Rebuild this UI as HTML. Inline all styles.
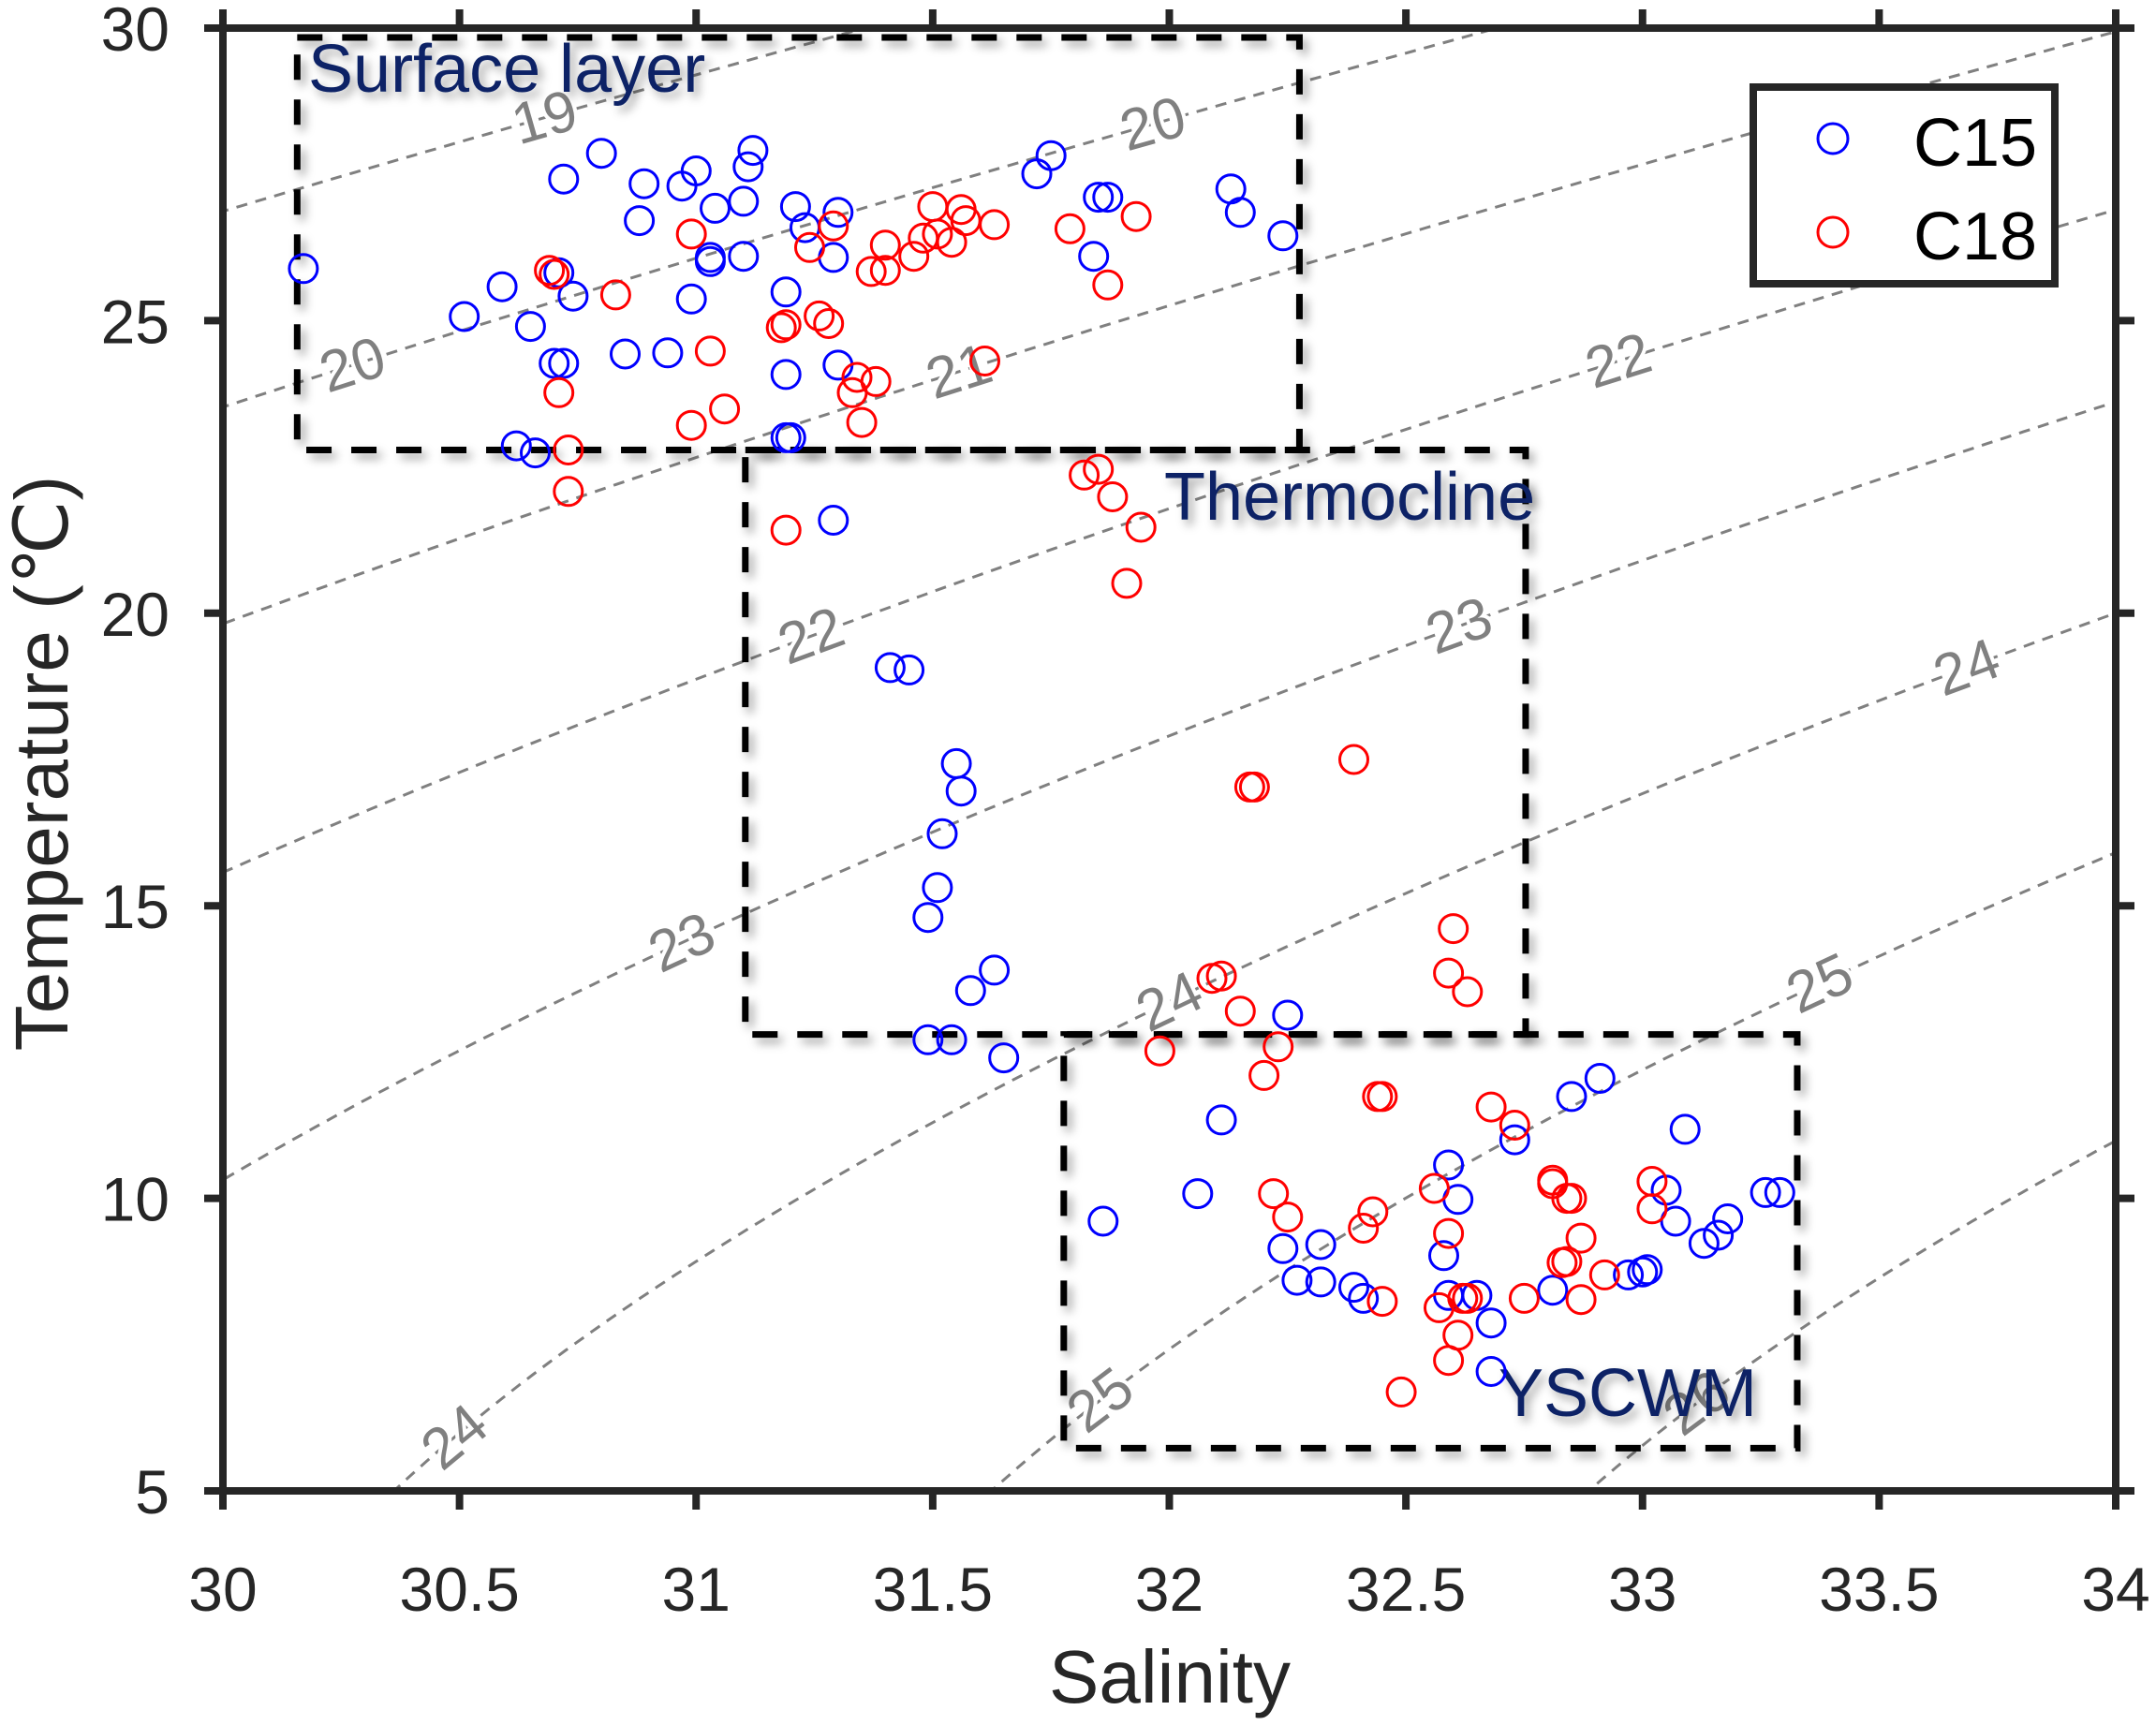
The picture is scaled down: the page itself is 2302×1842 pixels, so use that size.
<!DOCTYPE html>
<html><head><meta charset="utf-8"><style>
html,body{margin:0;padding:0;background:#fff;}
svg{display:block;font-family:"Liberation Sans",Arial,sans-serif;}
</style></head><body>
<svg id="chart" xmlns="http://www.w3.org/2000/svg" width="2302" height="1842" viewBox="0 0 2302 1842">
<defs>
<clipPath id="plotclip"><rect x="238" y="30" width="2021" height="1562"/></clipPath>
<filter id="shadow" x="-10%" y="-10%" width="130%" height="130%"><feDropShadow dx="5" dy="6" stdDeviation="5" flood-color="#000" flood-opacity="0.35"/></filter>
</defs>
<rect x="0" y="0" width="2302" height="1842" fill="#fff"/>
<g id="contours" clip-path="url(#plotclip)"></g>
<g id="contourLabels"></g>
<g id="boxes"></g>
<g id="points" clip-path="url(#plotclip)"></g>
<g id="axes"></g>
<g>
<rect x="1872" y="93" width="322" height="210" fill="#fff" stroke="#262626" stroke-width="8"/>
<circle cx="1957" cy="148" r="16" fill="none" stroke="#0000ff" stroke-width="3"/>
<text x="2043" y="177" font-size="72" fill="#000">C15</text>
<circle cx="1957" cy="248" r="16" fill="none" stroke="#ff0000" stroke-width="3"/>
<text x="2043" y="277" font-size="72" fill="#000">C18</text>
</g>
<text x="1249" y="1818" font-size="80" fill="#262626" text-anchor="middle">Salinity</text>
<text transform="translate(72,815) rotate(-90)" font-size="80" fill="#262626" text-anchor="middle">Temperature (℃)</text>
</svg>
<script>
const xTicks = [30, 30.5, 31, 31.5, 32, 32.5, 33, 33.5, 34];
const xTickLabels = ["30", "30.5", "31", "31.5", "32", "32.5", "33", "33.5", "34"];
const yTicks = [5, 10, 15, 20, 25, 30];
const yTickLabels = ["5", "10", "15", "20", "25", "30"];
const contourLevels = [17, 18, 19, 20, 21, 22, 23, 24, 25, 26, 27];
const labelValues = [19, 20, 20, 21, 22, 22, 23, 23, 24, 24, 24, 25, 25, 26];
const labelTemps = [28.47, 24.24, 28.36, 24.13, 24.31, 19.61, 19.78, 14.37, 19.07, 13.36, 5.92, 13.67, 6.55, 6.5];
const c15Sal = [30.17,30.51,30.59,30.65,30.62,30.66,30.70,30.72,30.72,30.71,30.74,30.80,30.85,30.88,30.89,30.94,30.97,30.99,31.00,31.03,31.04,31.03,31.10,31.10,31.11,31.12,31.19,31.19,31.19,31.20,31.21,31.23,31.29,31.30,31.30,31.29,31.41,31.45,31.55,31.56,31.52,31.51,31.49,31.58,31.63,31.49,31.54,31.65,31.72,31.75,31.84,31.85,31.87,32.13,32.15,32.24,32.25,32.11,32.06,31.86,32.24,32.32,32.27,32.32,32.39,32.41,32.59,32.61,32.58,32.59,32.65,32.68,32.68,32.73,32.85,32.91,32.81,32.97,33.00,33.01,33.05,33.07,33.09,33.13,33.16,33.18,33.26,33.29];
const c15Temp = [25.89,25.07,25.58,24.90,22.86,22.74,24.27,24.27,27.42,25.82,25.42,27.86,24.43,26.71,27.34,24.45,27.30,25.37,27.56,26.01,26.92,26.08,26.10,27.04,27.63,27.91,25.49,24.08,23.00,23.00,26.95,26.59,26.08,26.85,24.24,21.59,19.07,19.03,17.43,16.96,16.23,15.31,14.80,13.55,13.90,12.71,12.71,12.40,27.51,27.82,26.10,27.11,27.11,27.25,26.85,26.45,13.13,11.34,10.08,9.61,9.14,9.21,8.60,8.57,8.48,8.29,10.57,9.98,9.02,8.34,8.34,7.87,7.04,11.00,11.74,12.05,8.43,8.69,8.74,8.78,10.14,9.61,11.18,9.23,9.37,9.65,10.10,10.10];
const c18Sal = [30.69,30.70,30.71,30.73,30.73,30.83,30.99,30.99,31.03,31.06,31.18,31.19,31.19,31.24,31.26,31.28,31.29,31.33,31.34,31.35,31.37,31.40,31.38,31.40,31.46,31.48,31.51,31.50,31.54,31.56,31.57,31.63,31.61,31.79,31.87,31.93,31.82,31.85,31.88,31.94,31.91,32.17,32.18,32.39,32.09,32.11,32.15,31.98,32.23,32.20,32.45,32.44,32.22,32.25,32.43,32.41,32.45,32.49,32.56,32.59,32.57,32.59,32.62,32.63,32.61,32.60,32.59,32.63,32.68,32.73,32.75,32.81,32.81,32.84,32.85,32.84,32.83,32.87,32.87,32.92,33.02,33.02];
const c18Temp = [25.86,25.79,23.77,22.79,22.08,25.44,26.48,23.21,24.48,23.49,24.88,24.93,21.42,26.25,25.08,24.95,26.62,23.77,24.03,23.26,25.84,25.86,23.96,26.29,26.10,26.41,26.48,26.95,26.34,26.90,26.71,26.64,24.31,26.57,25.61,26.78,22.36,22.46,21.99,21.47,20.51,17.03,17.03,17.50,13.76,13.80,13.20,12.52,12.59,12.10,11.74,11.74,10.08,9.68,9.77,9.49,8.24,6.69,10.17,9.40,8.13,7.23,8.29,8.29,7.66,14.61,13.85,13.53,11.56,11.25,8.29,10.31,10.25,10.00,10.00,8.92,8.90,9.32,8.27,8.69,10.29,9.82];
const boxNames = ["Surface layer", "Thermocline", "YSCWM"];
const boxSmin = [30.157, 31.104, 31.777];
const boxSmax = [32.275, 32.753, 33.327];
const boxTmin = [22.79, 12.80, 5.73];
const boxTmax = [29.84, 22.79, 12.80];

const NS = "http://www.w3.org/2000/svg";
const X0 = 238, X1 = 2259, Y0 = 1592, Y1 = 30;
function sx(s){ return X0 + (s - 30) / 4 * (X1 - X0); }
function sy(t){ return Y0 - (t - 5) / 25 * (Y0 - Y1); }
function mk(tag, attrs, parent){ const e = document.createElementNS(NS, tag); for (const k in attrs) e.setAttribute(k, attrs[k]); parent.appendChild(e); return e; }

function sigma(S, T){
  const rw = 999.842594 + 6.793952e-2*T - 9.095290e-3*T*T + 1.001685e-4*T**3 - 1.120083e-6*T**4 + 6.536332e-9*T**5;
  const A = 0.824493 - 4.0899e-3*T + 7.6438e-5*T*T - 8.2467e-7*T**3 + 5.3875e-9*T**4;
  const B = -5.72466e-3 + 1.0227e-4*T - 1.6546e-6*T*T;
  return rw + A*S + B*Math.pow(S,1.5) + 4.8314e-4*S*S - 1000;
}
function salFor(level, T){
  let lo = 20, hi = 40;
  for (let i = 0; i < 60; i++){ const m = (lo+hi)/2; if (sigma(m,T) < level) lo = m; else hi = m; }
  return (lo+hi)/2;
}

const cg = document.getElementById('contours');
contourLevels.forEach(lv => {
  let d = "";
  for (let T = 3; T <= 32.001; T += 0.1){
    const s = salFor(lv, T);
    d += (d ? "L" : "M") + sx(s).toFixed(1) + "," + sy(T).toFixed(1);
  }
  const p = mk('path', {d: d, fill: "none", stroke: "#808080", "stroke-width": 3, "stroke-dasharray": "12 9"}, cg);
  
  
});

const lg = document.getElementById('contourLabels');
labelValues.forEach((lv, i) => {
  const T = labelTemps[i];
  const s = salFor(lv, T);
  const s2 = salFor(lv, T + 0.3);
  const ang = Math.atan2(sy(T + 0.3) - sy(T), sx(s2) - sx(s)) * 180 / Math.PI;
  const t = mk('text', {x: 0, y: 0, transform: "translate(" + sx(s).toFixed(1) + "," + sy(T).toFixed(1) + ") rotate(" + ang.toFixed(1) + ")",
    "text-anchor": "middle", "dominant-baseline": "central", "font-size": 62, fill: "#808080",
    stroke: "#fff", "stroke-width": 8, "paint-order": "stroke"}, lg);
  t.textContent = String(lv);
  
  
});

const bg = document.getElementById('boxes');
boxNames.forEach((nm, i) => {
  const r = mk('rect', {x: sx(boxSmin[i]), y: sy(boxTmax[i]), width: sx(boxSmax[i]) - sx(boxSmin[i]), height: sy(boxTmin[i]) - sy(boxTmax[i]),
    fill: "none", stroke: "#000", "stroke-width": 7, "stroke-dasharray": "27 21", filter: "url(#shadow)"}, bg);
  
  
});
const boxLabelPos = [[329, 98], [1243, 555], [1600, 1512]];
boxNames.forEach((nm, i) => {
  const t = mk('text', {x: boxLabelPos[i][0], y: boxLabelPos[i][1], "font-size": 72, fill: "#0a2266", filter: "url(#shadow)"}, bg);
  t.textContent = nm;
  
  
});

const pg = document.getElementById('points');
function drawSeries(S, T, color, name){
  S.forEach((s, i) => {
    const c = mk('circle', {cx: sx(s).toFixed(1), cy: sy(T[i]).toFixed(1), r: 15, fill: "none", stroke: color, "stroke-width": 3}, pg);
    
    
  });
}
drawSeries(c15Sal, c15Temp, "#0000ff", "c15");
drawSeries(c18Sal, c18Temp, "#ff0000", "c18");

const ag = document.getElementById('axes');
const fr = mk('rect', {x: X0, y: Y1, width: X1 - X0, height: Y0 - Y1, fill: "none", stroke: "#262626", "stroke-width": 8}, ag);


xTicks.forEach((v, i) => {
  const x = sx(v);
  mk('line', {x1: x, y1: Y0, x2: x, y2: Y0 + 20, stroke: "#262626", "stroke-width": 8}, ag);
  mk('line', {x1: x, y1: Y1, x2: x, y2: Y1 - 20, stroke: "#262626", "stroke-width": 8}, ag);
  const t = mk('text', {x: x, y: 1720, "text-anchor": "middle", "font-size": 66, fill: "#262626"}, ag);
  t.textContent = xTickLabels[i];
  
  
});
yTicks.forEach((v, i) => {
  const y = sy(v);
  mk('line', {x1: X0, y1: y, x2: X0 - 20, y2: y, stroke: "#262626", "stroke-width": 8}, ag);
  mk('line', {x1: X1, y1: y, x2: X1 + 20, y2: y, stroke: "#262626", "stroke-width": 8}, ag);
  const t = mk('text', {x: 181, y: y + 24, "text-anchor": "end", "font-size": 66, fill: "#262626"}, ag);
  t.textContent = yTickLabels[i];
  
  
});
</script>
</body></html>
